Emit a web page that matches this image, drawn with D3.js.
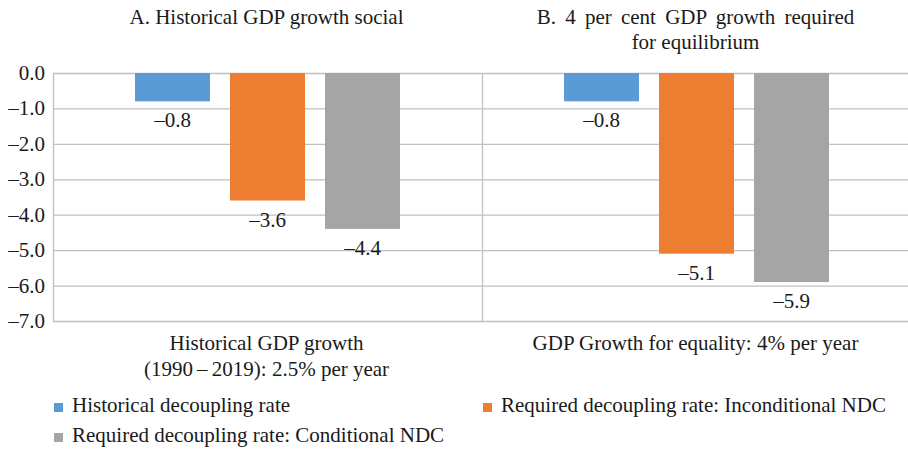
<!DOCTYPE html>
<html><head><meta charset="utf-8">
<script src="https://cdn.jsdelivr.net/npm/d3@7"></script>
</head><body style="margin:0">
<svg id="c" width="908" height="453"></svg>
<script>
const groups = ["A", "B"];
const groupTitles = [["A. Historical GDP growth social"], ["B. 4 per cent GDP growth required", "for equilibrium"]];
const groupLabels = [["Historical GDP growth", "(1990\u2009\u2013\u20092019): 2.5% per year"], ["GDP Growth for equality: 4% per year"]];
const seriesNames = ["Historical decoupling rate", "Required decoupling rate: Inconditional NDC", "Required decoupling rate: Conditional NDC"];
const historical = [-0.8, -0.8];
const inconditional = [-3.6, -5.1];
const conditional = [-4.4, -5.9];
const yTicks = [0, -1, -2, -3, -4, -5, -6, -7];
const colors = ["#5B9BD5", "#ED7D31", "#A5A5A5"];

(function () {
const svg = d3.select("#c");
const pl = 53, pr = 911, pt = 73, pb = 321;
const y = d3.scaleLinear().domain([0, -7]).range([pt, pb]);
const x0 = d3.scaleBand().domain(groups).range([pl, pr]).padding(0);
const inner = 265;
const offset = (x0.bandwidth() - inner) / 2;
const x1 = d3.scaleBand().domain([0, 1, 2]).range([offset, offset + inner]).paddingInner(20/95).paddingOuter(0);

const fmt = v => (v < 0 ? "\u2013" : "") + Math.abs(v).toFixed(1);
const addText = (sel) => sel.append("text").style("font-family", "'Liberation Serif'").attr("fill", "#1a1a1a").attr("font-size", 21);

svg.append("g").selectAll("line").data(yTicks).join("line")
  .attr("x1", pl).attr("x2", pr)
  .attr("y1", d => y(d) + 0.5).attr("y2", d => y(d) + 0.5)
  .attr("stroke", "#C0C0C0").attr("stroke-width", 1.3);
svg.append("line").attr("x1", pl + 0.5).attr("x2", pl + 0.5).attr("y1", pt).attr("y2", pb)
  .attr("stroke", "#C0C0C0").attr("stroke-width", 1.3);
svg.append("line").attr("x1", x0("B") + 0.5).attr("x2", x0("B") + 0.5).attr("y1", pt).attr("y2", pb)
  .attr("stroke", "#C0C0C0").attr("stroke-width", 1.3);

yTicks.forEach(t => {
  addText(svg).attr("x", 45).attr("y", y(t) + 7).attr("text-anchor", "end").text(fmt(t));
});

groups.forEach((g, i) => {
  const vals = [historical[i], inconditional[i], conditional[i]];
  vals.forEach((v, k) => {
    const bx = x0(g) + x1(k);
    svg.append("rect").attr("x", bx).attr("width", x1.bandwidth())
      .attr("y", y(0)).attr("height", y(v) - y(0)).attr("fill", colors[k]);
    addText(svg).attr("x", bx + x1.bandwidth() / 2).attr("y", y(v) + 26)
      .attr("text-anchor", "middle").text(fmt(v));
  });
  const cx = x0(g) + x0.bandwidth() / 2 - 1;
  groupTitles[i].forEach((t, j) => {
    addText(svg).attr("x", cx).attr("y", 24 + j * 25)
      .attr("text-anchor", "middle")
      .attr("word-spacing", i === 1 && j === 0 ? 4 : 0).text(t);
  });
  groupLabels[i].forEach((t, j) => {
    addText(svg).attr("x", cx).attr("y", 350 + j * 26)
      .attr("text-anchor", "middle").text(t);
  });
});

const legendPos = [[54, 412], [483, 412], [54, 442]];
seriesNames.forEach((n, k) => {
  const [lx, ly] = legendPos[k];
  svg.append("rect").attr("x", lx).attr("y", ly - 9).attr("width", 9).attr("height", 9).attr("fill", colors[k]);
  addText(svg).attr("x", lx + 18).attr("y", ly).text(n);
});
})();
</script>
</body></html>
